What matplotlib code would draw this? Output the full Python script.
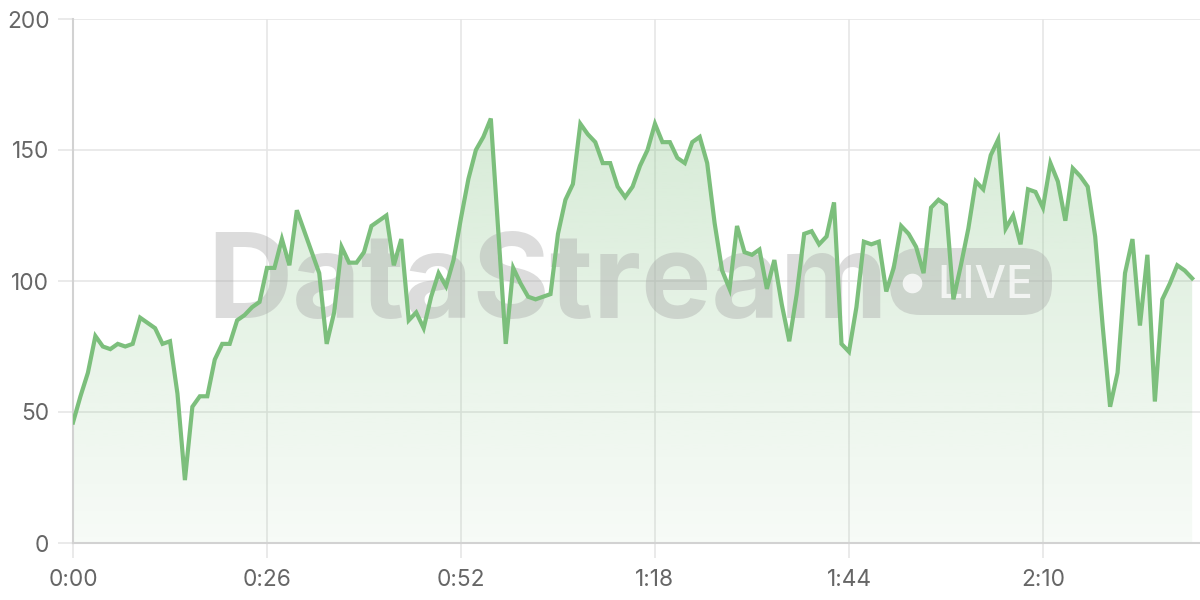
import matplotlib
matplotlib.use("Agg")
import matplotlib.pyplot as plt
import numpy as np
from matplotlib.patches import FancyBboxPatch
from matplotlib.ticker import FuncFormatter

# readings, one per second (0..150 s)
values = [
    46, 56, 65, 79, 75, 74, 76, 75, 76, 86,
    84, 82, 76, 77, 57, 24, 52, 56, 56, 70,
    76, 76, 85, 87, 90, 92, 105, 105, 116, 106,
    127, 119, 111, 103, 76, 88, 113, 107, 107, 111,
    121, 123, 125, 106, 116, 85, 88, 82, 94, 103,
    98, 108, 124, 139, 150, 155, 162, 119, 76, 105,
    99, 94, 93, 94, 95, 118, 131, 137, 160, 156,
    153, 145, 145, 136, 132, 136, 144, 150, 160, 153,
    153, 147, 145, 153, 155, 145, 122, 104, 97, 121,
    111, 110, 112, 97, 108, 91, 77, 95, 118, 119,
    114, 117, 130, 76, 73, 90, 115, 114, 115, 96,
    105, 121, 118, 113, 103, 128, 131, 129, 93, 106,
    120, 138, 135, 148, 154, 120, 125, 114, 135, 134,
    128, 145, 138, 123, 143, 140, 136, 117, 83, 52,
    65, 103, 116, 83, 110, 54, 93, 99, 106, 104,
    101,
]
seconds = np.arange(len(values))
tick_secs = [0, 26, 52, 78, 104, 130]
y_ticks = [0, 50, 100, 150, 200]

line_color = "#7cbf7c"
grid_color = "#e6e6e6"
label_color = "#666666"

plt.rcParams["font.family"] = ["Inter", "DejaVu Sans"]

fig = plt.figure(figsize=(12, 6), dpi=100)
ax = fig.add_axes([73 / 1200, 57 / 600, 1127 / 1200, 524 / 600])

# gradient fill under the line
poly = ax.fill_between(seconds, values, 0, color="none", zorder=1)
grad = np.linspace(0.06, 0.32, 256).reshape(-1, 1)
rgba = np.zeros((256, 1, 4))
rgba[..., 0] = 124 / 255
rgba[..., 1] = 191 / 255
rgba[..., 2] = 124 / 255
rgba[..., 3] = grad
img = ax.imshow(rgba, extent=[0, 151.05, 0, 170], origin="lower",
                aspect="auto", zorder=1, interpolation="bilinear")
img.set_clip_path(poly.get_paths()[0], transform=ax.transData)
ax.set_xlim(0, 151.05)
ax.set_ylim(0, 200)

ax.plot(seconds, values, color=line_color, lw=3, zorder=4,
        solid_joinstyle="miter")

# watermark (positions in inches on the figure)
wm = fig.dpi_scale_trans
ax.text(2.07, 2.82, "DataStream", transform=wm, fontsize=85,
        fontweight="bold", color="#a8a8a8", alpha=0.4, zorder=2,
        ha="left", va="baseline")
pill = FancyBboxPatch((8.90, 2.85), 1.62, 0.67, transform=wm,
                      boxstyle="round,pad=0,rounding_size=0.3",
                      facecolor="#a8a8a8", edgecolor="none", alpha=0.38,
                      zorder=2, clip_on=False)
ax.add_patch(pill)
ax.scatter([9.12], [3.17], s=200, color="white", alpha=0.75,
           transform=wm, zorder=2, linewidths=0)
ax.text(9.37, 3.02, "LIVE", transform=wm, fontsize=32, fontweight="medium",
        color="white", alpha=0.75, zorder=2, ha="left", va="baseline")

# axes styling
ax.set_xticks(tick_secs)
ax.set_yticks(y_ticks)
ax.xaxis.set_major_formatter(FuncFormatter(lambda v, p: f"{int(v) // 60}:{int(v) % 60:02d}"))
ax.grid(True, color=grid_color, lw=1.2, zorder=0)
ax.set_axisbelow(True)
for s in ["top", "right"]:
    ax.spines[s].set_visible(False)
for s in ["left", "bottom"]:
    ax.spines[s].set_color("#d2d2d2")
    ax.spines[s].set_linewidth(1.5)
ax.tick_params(axis="both", length=11, width=1.2, color=grid_color,
               labelcolor=label_color, labelsize=16.3)
ax.tick_params(axis="y", pad=6)
ax.tick_params(axis="x", pad=8)

fig.savefig("out.png", dpi=100)
